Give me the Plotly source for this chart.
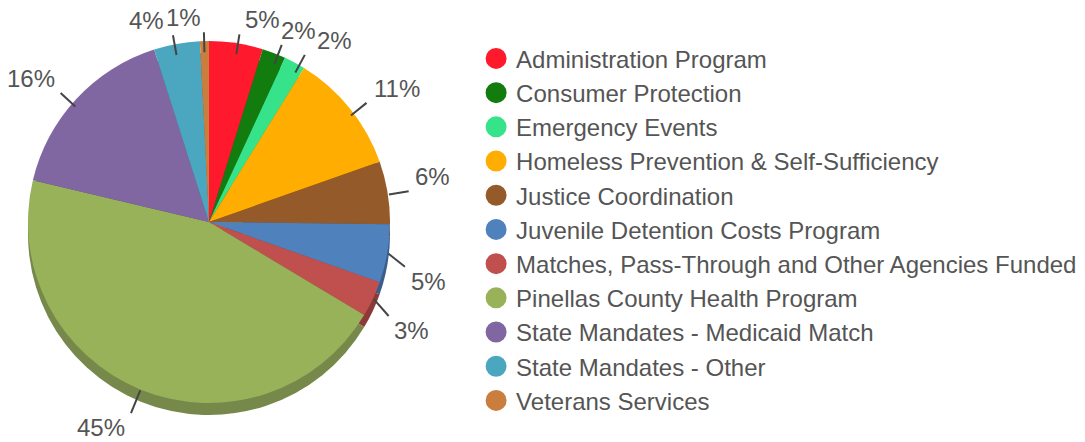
import math
import plotly.graph_objects as go

categories = [
    "Administration Program",
    "Consumer Protection",
    "Emergency Events",
    "Homeless Prevention & Self-Sufficiency",
    "Justice Coordination",
    "Juvenile Detention Costs Program",
    "Matches, Pass-Through and Other Agencies Funded",
    "Pinellas County Health Program",
    "State Mandates - Medicaid Match",
    "State Mandates - Other",
    "Veterans Services",
]
values = [4.8, 2.1, 1.9, 10.8, 5.6, 5.2, 3.2, 45.1, 16.4, 4.1, 0.8]
colors = ["#FE1A2C", "#127C0E", "#36E38A", "#FFAD00", "#955A29", "#4F81BD",
          "#C0504D", "#98B25A", "#8067A1", "#4BA6BF", "#C97E3E"]
shadow_colors = ["#B8141F", "#0D5A0A", "#27A565", "#BA7E00", "#6C411E", "#3A5E8A",
                 "#8C3A38", "#76884A", "#5D4B75", "#367A8B", "#925C2D"]

W, H = 1085, 442
CX, CY, R = 209, 222, 181          # pie face (circle) in pixels
RX, RY = 188, 175                  # rim used for leader lines (3D look)
SHADOW = 12
FONT = "Liberation Sans, Arial, sans-serif"
TEXT_COLOR = "#555555"
FS = 24


def dom(cx, cy, r):
    return dict(x=[(cx - r) / W, (cx + r) / W], y=[(H - cy - r) / H, (H - cy + r) / H])


fig = go.Figure()
fig.add_trace(go.Pie(labels=categories, values=values, sort=False, direction="clockwise",
                     rotation=0, marker=dict(colors=shadow_colors, line=dict(width=0)),
                     textinfo="none", hoverinfo="skip", showlegend=False,
                     domain=dom(CX, CY + SHADOW, R)))
fig.add_trace(go.Pie(labels=categories, values=values, sort=False, direction="clockwise",
                     rotation=0, marker=dict(colors=colors, line=dict(width=0)),
                     textinfo="none", hoverinfo="label+percent", showlegend=False,
                     domain=dom(CX, CY, R)))

# legend entries (circle markers)
for name, col in zip(categories, colors):
    fig.add_trace(go.Scatter(x=[None], y=[None], mode="markers", name=name,
                             marker=dict(symbol="circle", size=24, color=col,
                                         line=dict(color=col, width=6)),
                             showlegend=True, hoverinfo="skip"))

# outside percentage labels with leader lines
total = sum(values)
lines, boxes, texts = [], [], []
cum = 0.0
for v in values:
    mid = (cum + v / 2) / total * 2 * math.pi
    cum += v
    ux, uy = math.sin(mid), -math.cos(mid)
    x1 = CX + 0.97 * RX * ux
    y1 = CY + 0.97 * RY * uy + (SHADOW * uy if uy > 0 else 0)
    dx, dy = ux, uy
    if uy > 0 and abs(ux) > 0.5:
        dy += 0.6
    n = math.hypot(dx, dy)
    L = 20 + 5 * max(uy, 0)
    x2, y2 = x1 + L * dx / n, y1 + L * dy / n
    lines.append((x1, y1, x2, y2))
    txt = f"{round(v / total * 100):.0f}%"
    tw = FS * (0.556 * (len(txt) - 1) + 0.889) + 2
    th = FS * 1.05
    left = x2 + 5 if ux >= 0 else x2 - 5 - tw
    top = y2 - 2 - th if uy < 0 else y2 + 2
    # resolve overlap with previous label on the top half: split the difference
    if boxes and uy < 0:
        pl, pt, pw, ph = boxes[-1]
        if left < pl + pw and pl < left + tw and top < pt + ph and pt < top + th:
            ov = pl + pw - left
            boxes[-1] = (pl - ov / 2, pt, pw, ph)
            left += ov / 2
    boxes.append((left, top, tw, th))
    texts.append(txt)

shapes = [dict(type="line", xref="paper", yref="paper",
               x0=a / W, y0=1 - b / H, x1=c / W, y1=1 - d / H,
               line=dict(color="#444444", width=2)) for a, b, c, d in lines]
annotations = [dict(text=t, xref="paper", yref="paper",
                    x=(l + w / 2) / W, y=1 - (tp + h / 2) / H,
                    xanchor="center", yanchor="middle", showarrow=False,
                    font=dict(size=FS, color=TEXT_COLOR, family=FONT))
               for t, (l, tp, w, h) in zip(texts, boxes)]

fig.update_layout(
    width=W, height=H,
    margin=dict(l=0, r=0, t=0, b=0),
    paper_bgcolor="white", plot_bgcolor="white",
    xaxis=dict(visible=False), yaxis=dict(visible=False),
    shapes=shapes, annotations=annotations,
    showlegend=True,
    legend=dict(x=0.4388, y=0.48, xanchor="left", yanchor="middle",
                font=dict(size=FS, color=TEXT_COLOR, family=FONT),
                itemsizing="trace", tracegroupgap=0, bgcolor="rgba(0,0,0,0)"),
    font=dict(family=FONT),
)

fig.write_html("out.html", config={"displayModeBar": False},
               post_script="document.body.style.margin='0';document.body.style.overflow='hidden';")
